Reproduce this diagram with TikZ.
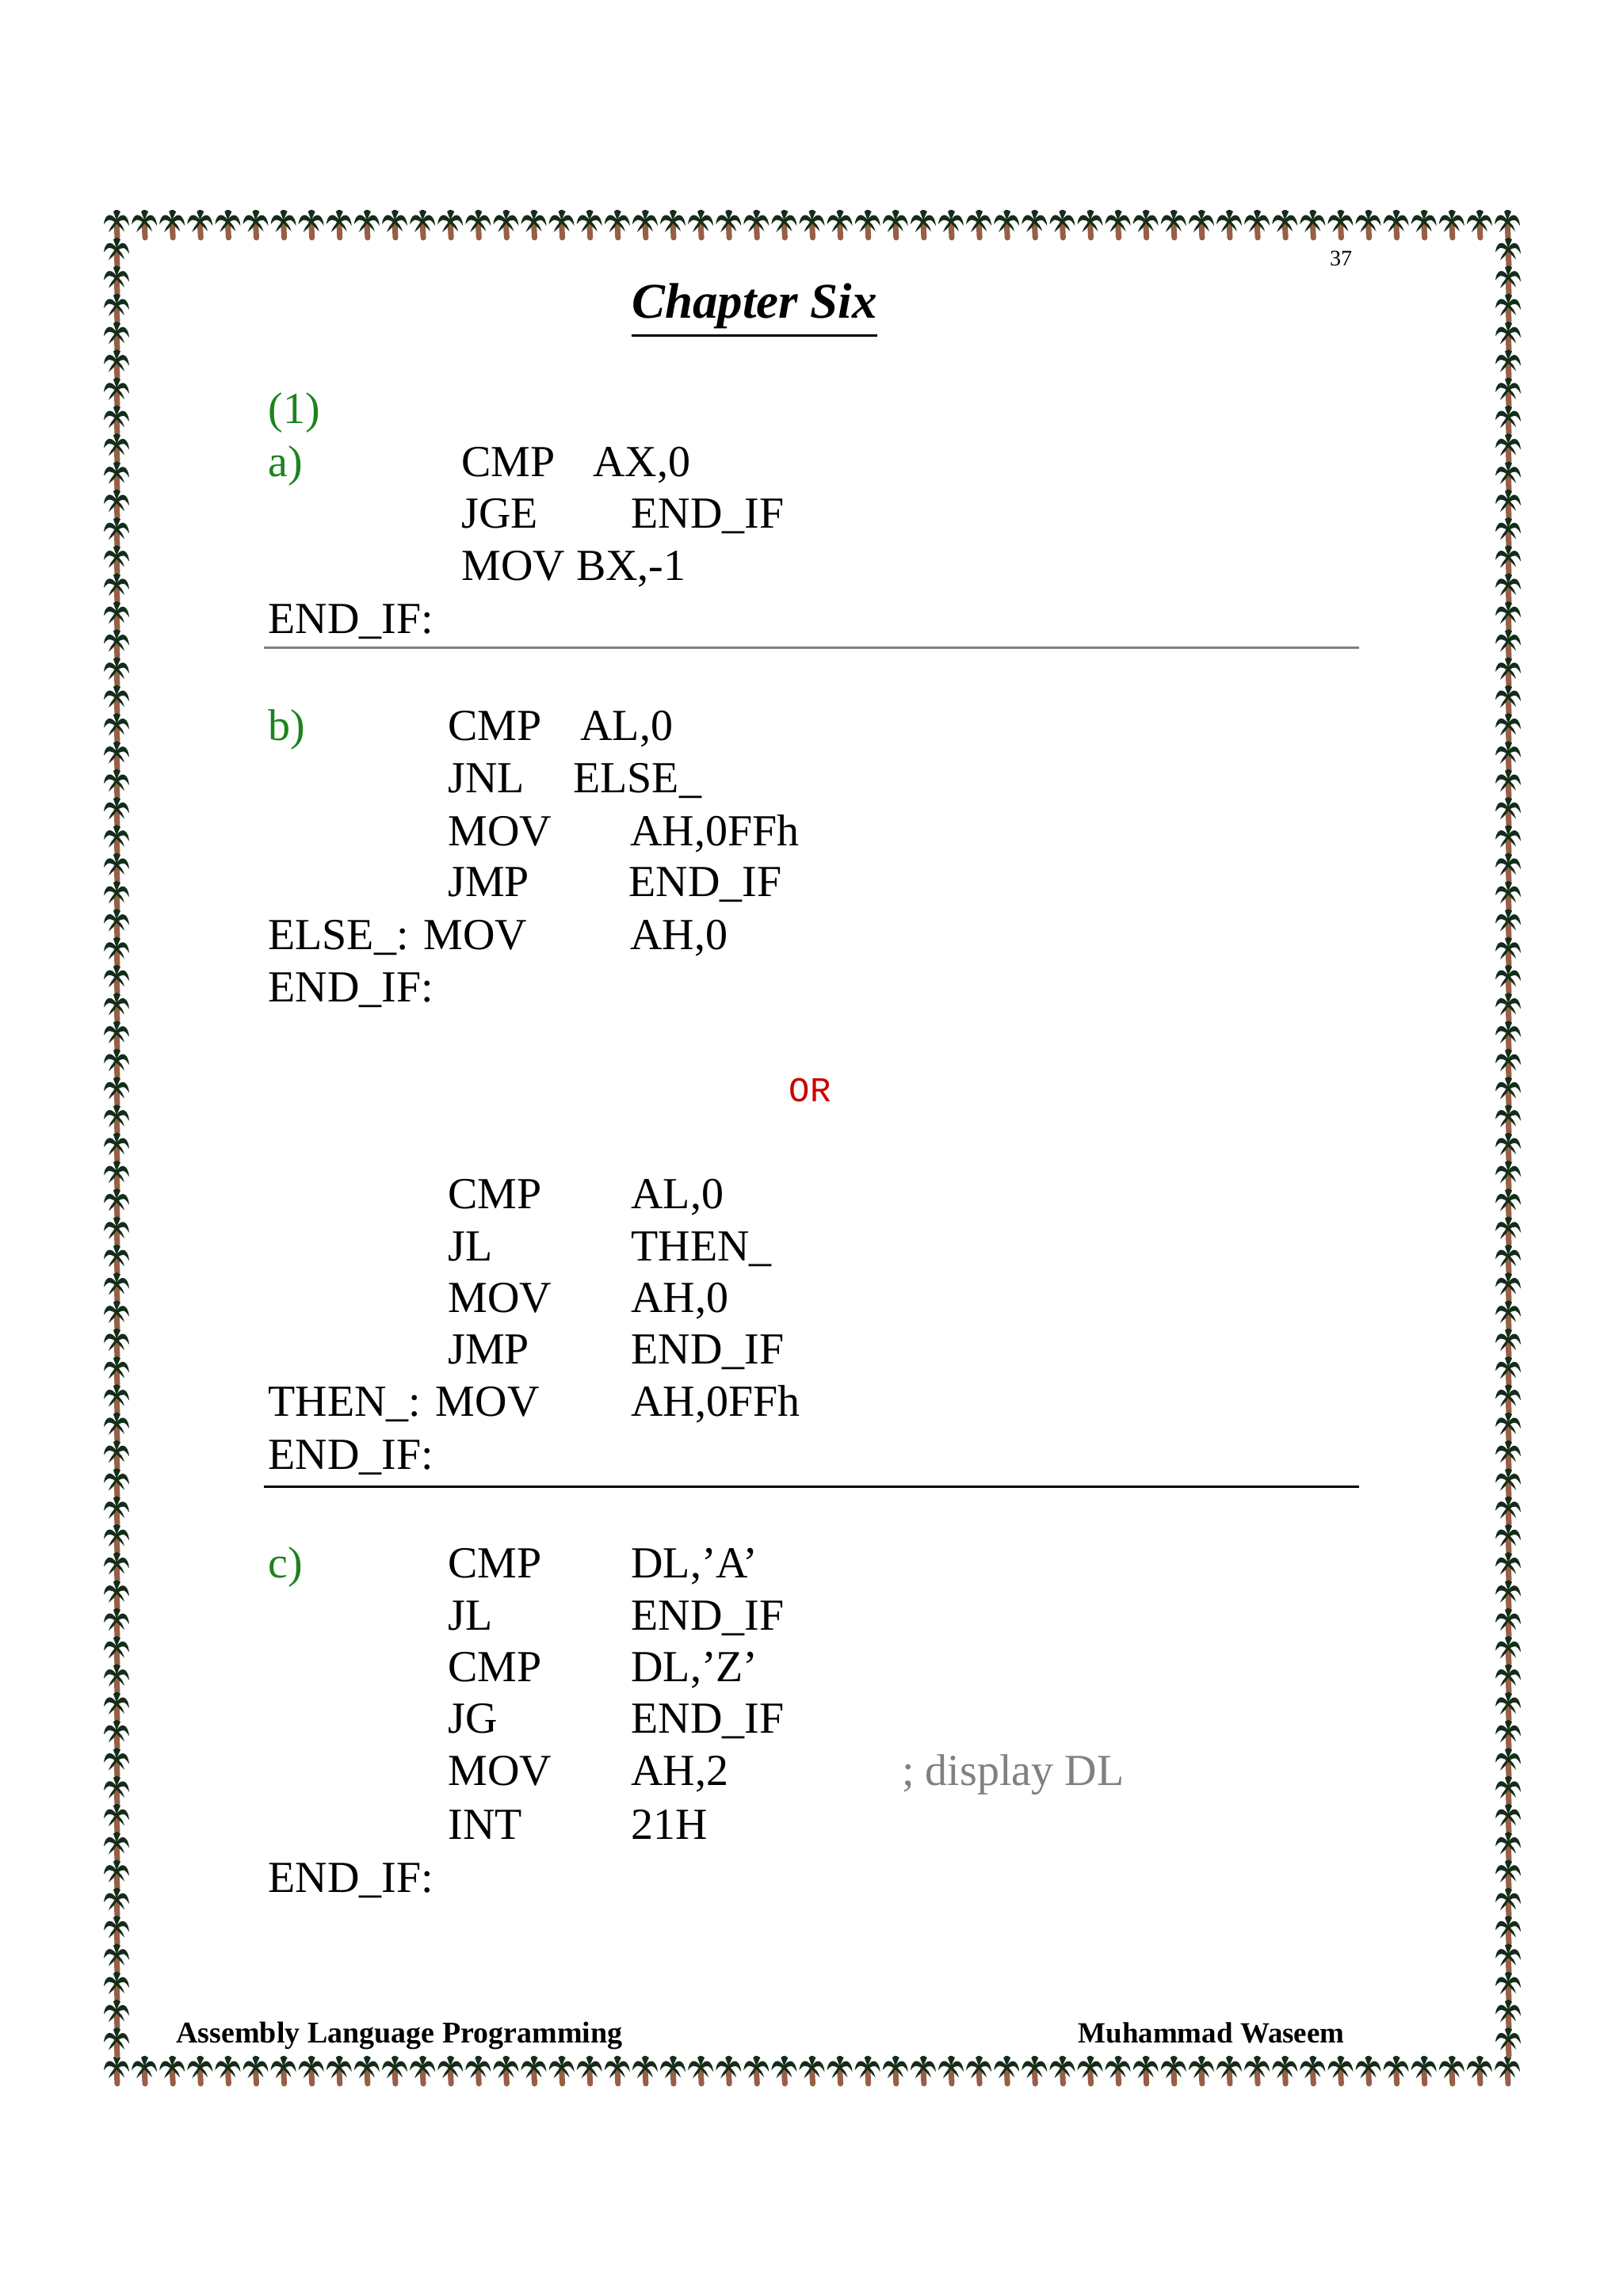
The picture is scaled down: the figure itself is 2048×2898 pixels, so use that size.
\documentclass[tikz,border=0pt]{standalone}
\usepackage{fontspec}
\setmainfont{Liberation Serif}
\setmonofont{Liberation Mono}
\definecolor{gr}{RGB}{30,130,30}
\definecolor{leaf}{RGB}{20,45,25}
\definecolor{trunk}{RGB}{150,95,70}
\tikzset{t/.style={anchor=mid west,inner sep=0pt,font=\fontsize{28}{30}\selectfont},
palm/.pic={\draw[trunk,line width=3.5pt,line cap=round] (0,-2)--(1,18);
\fill[leaf] (0,-4) .. controls (-8,-16) and (-15,-10) .. (-16,1) .. controls (-10,-6) .. (0,-1)
 .. controls (10,-6) .. (16,3) .. controls (15,-10) and (7,-16) .. (0,-4)
 -- (-4,-15) .. controls (0,-18) .. (5,-15) -- cycle
 (0,-4) .. controls (-7,4) .. (-10,11) .. controls (-3,5) .. (0,0) .. controls (5,5) .. (10,10) .. controls (7,2) .. (0,-4);}}
\begin{document}
\begin{tikzpicture}[x=0.5pt,y=-0.5pt]
\useasboundingbox[fill=white] (0,0) rectangle (2048,2898);
\foreach \i in {0,...,50} {\pic at ({147+\i*35.1},282) {palm}; \pic at ({147+\i*35.1},2612) {palm};}
\foreach \j in {1,...,65} {\pic at (147,{282+\j*35.3}) {palm}; \pic at (1903,{282+\j*35.3}) {palm};}
\begin{scope}[shift={(0,13)}]
\node[anchor=mid,inner sep=0pt,font=\fontsize{14}{16}\selectfont] (pg) at (1692,318) {37};
\node[anchor=mid,inner sep=0pt,font=\fontsize{31.5}{33}\selectfont\bfseries\itshape] (ch) at (952,384) {Chapter Six};
\draw[line width=1.6pt] ([yshift=-4pt]ch.south west) coordinate (u1) -- ([yshift=-4pt]ch.south east) coordinate (u2);
\node[t,gr] (n1) at (338,517) {(1)};
\node[t,gr] (a) at (338,584) {a)};
\node[t] (a1) at (582,584) {CMP}; \node[t] (a2) at (748,584) {AX,0};
\node[t] (a3) at (582,649) {JGE}; \node[t] (a4) at (796,649) {END\_IF};
\node[t] (a5) at (582,715) {MOV BX,-1};
\node[t] (a6) at (338,782) {END\_IF:};
\node[t,gr] (b) at (338,917) {b)};
\node[t] (b1) at (565,917) {CMP}; \node[t] (b2) at (732,917) {AL,0};
\node[t] (b3) at (565,983) {JNL}; \node[t] (b4) at (723,983) {ELSE\_};
\node[t] (b5) at (565,1050) {MOV}; \node[t] (b6) at (795,1050) {AH,0FFh};
\node[t] (b7) at (565,1114) {JMP}; \node[t] (b8) at (793,1114) {END\_IF};
\node[t] (b9) at (338,1181) {ELSE\_: MOV}; \node[t] (b10) at (795,1181) {AH,0};
\node[t] (b11) at (338,1247) {END\_IF:};
\node[anchor=mid,inner sep=0pt,red!80!black,font=\ttfamily\fontsize{22}{24}\selectfont] (or) at (1022,1373) {OR};
\node[t] (c1) at (565,1508) {CMP}; \node[t] (c2) at (796,1508) {AL,0};
\node[t] (c3) at (565,1574) {JL}; \node[t] (c4) at (796,1574) {THEN\_};
\node[t] (c5) at (565,1639) {MOV}; \node[t] (c6) at (796,1639) {AH,0};
\node[t] (c7) at (565,1704) {JMP}; \node[t] (c8) at (796,1704) {END\_IF};
\node[t] (c9) at (338,1770) {THEN\_: MOV}; \node[t] (c10) at (796,1770) {AH,0FFh};
\node[t] (c11) at (338,1837) {END\_IF:};
\node[t,gr] (c) at (338,1974) {c)};
\node[t] (d1) at (565,1974) {CMP}; \node[t] (d2) at (796,1974) {DL,’A’};
\node[t] (d3) at (565,2040) {JL}; \node[t] (d4) at (796,2040) {END\_IF};
\node[t] (d5) at (565,2105) {CMP}; \node[t] (d6) at (796,2105) {DL,’Z’};
\node[t] (d7) at (565,2170) {JG}; \node[t] (d8) at (796,2170) {END\_IF};
\node[t] (d9) at (565,2236) {MOV}; \node[t] (d10) at (796,2236) {AH,2};
\node[t,gray] (d11) at (1138,2236) {; display DL};
\node[t] (d12) at (565,2304) {INT}; \node[t] (d13) at (796,2304) {21H};
\node[t] (d14) at (338,2371) {END\_IF:};
\node[anchor=mid west,inner sep=0pt,font=\fontsize{19}{21}\selectfont\bfseries] (f1) at (222,2561) {Assembly Language Programming};
\node[anchor=mid east,inner sep=0pt,font=\fontsize{18.5}{21}\selectfont\bfseries] (f2) at (1697,2561) {Muhammad Waseem};
\end{scope}
\draw[gray,line width=1.5pt] (333,817) coordinate (l1) -- (1715,817) coordinate (l2);
\draw[black,line width=1.5pt] (333,1876) coordinate (l3) -- (1715,1876) coordinate (l4);
\end{tikzpicture}
\end{document}
